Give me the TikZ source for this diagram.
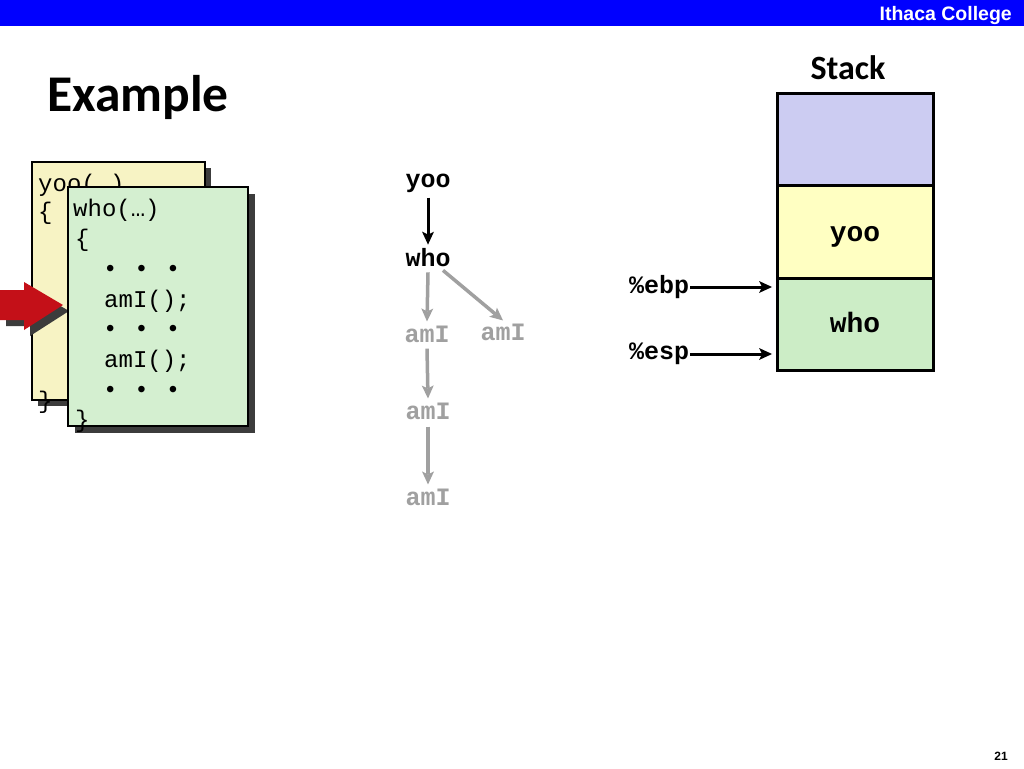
\documentclass[tikz,border=0pt]{standalone}
\usepackage{fontspec}
\newfontfamily\carlitofont{Carlito}
\newfontfamily\arifont{Liberation Sans}
\newfontfamily\monofont{Liberation Mono}
\usetikzlibrary{calc}
\definecolor{barblue}{RGB}{0,0,255}
\definecolor{codeyellow}{RGB}{247,243,196}
\definecolor{codegreen}{RGB}{212,239,208}
\definecolor{shadowgray}{RGB}{60,60,60}
\definecolor{arrowred}{RGB}{196,16,24}
\definecolor{treegray}{RGB}{160,160,160}
\definecolor{stpurple}{RGB}{204,204,242}
\definecolor{styellow}{RGB}{255,255,194}
\definecolor{stgreen}{RGB}{204,237,198}
\newcommand{\bulletrow}{•\kern2.5pt\ •\kern2.5pt\ •}
% connector: #1 colour, #2 width, #3 start, #4 end (tip point)
\newcommand{\conn}[4]{%
  \draw[#1, line width=#2, line cap=butt] (#3) -- ($(#4)!10pt!(#3)$);
  \coordinate (tipbase) at ($(#4)!13pt!(#3)$);
  \fill[#1] (#4) -- ($(tipbase)!6pt!90:(#4)$) -- ($(#4)!10pt!(#3)$) -- ($(tipbase)!6pt!-90:(#4)$) -- cycle;
}
\tikzset{
  codetext/.style={anchor=base west, inner sep=0pt, font=\monofont\fontsize{24}{28}\selectfont},
  treeblack/.style={inner sep=0pt, font=\monofont\bfseries\fontsize{25}{28}\selectfont, text=black},
  treegraylbl/.style={inner sep=0pt, font=\monofont\bfseries\fontsize{25}{28}\selectfont, text=treegray},
  stackbox/.style={draw=black, line width=3pt, minimum width=156pt, minimum height=92.5pt, inner sep=0pt},
  stacklbl/.style={inner sep=0pt, anchor=base, font=\monofont\bfseries\fontsize{28}{30}\selectfont},
  reglbl/.style={inner sep=1pt, font=\monofont\bfseries\fontsize{25}{28}\selectfont},
  boxline/.style={draw=black, line width=2pt},
}
\begin{document}
\begin{tikzpicture}[x=1pt,y=-1pt]
\useasboundingbox (0,0) rectangle (1024,768);
\fill[white] (0,0) rectangle (1024,768);
% top bar
\fill[barblue] (0,0) rectangle (1024,26);
\node[anchor=east, inner sep=0pt, text=white, font=\arifont\bfseries\fontsize{19.5}{22}\selectfont] (college) at (1012,16) {Ithaca College};
% title
\node[anchor=base west, inner sep=0pt, font=\carlitofont\bfseries\fontsize{51.5}{56}\selectfont] (title) at (47,111) {Example};
\node[anchor=base, inner sep=0pt, font=\carlitofont\bfseries\fontsize{34}{38}\selectfont] (stacktitle) at (848,79) {Stack};
% page number
\node[anchor=base east, inner sep=0pt, font=\arifont\bfseries\fontsize{12}{14}\selectfont] (pagenum) at (1008,760) {21};

% yellow code box
\fill[shadowgray] (38,168) rectangle (211,406);
\draw[boxline, fill=codeyellow] (32,162) rectangle (205,400);
\node[codetext] (y1) at (38,191) {yoo(…)};
\node[codetext] (y2) at (38,219) {\{};
\node[codetext] (y3) at (38,408) {\}};

% red arrow with shadow
\fill[shadowgray] (6,296) -- (30,296) -- (30,288) -- (69,311) -- (30,336) -- (30,326) -- (6,326) -- cycle;
\fill[arrowred] (0,290) -- (24,290) -- (24,282) -- (63,305) -- (24,330) -- (24,320) -- (0,320) -- cycle;

% green code box
\fill[shadowgray] (75,194) rectangle (255,433);
\draw[boxline, fill=codegreen] (68,187) rectangle (248,426);
\node[codetext] (g1) at (73,216) {who(…)};
\node[codetext] (g2) at (75,246) {\{};
\node[codetext] (g3) at (103,276) {\bulletrow};
\node[codetext] (g4) at (104,307) {amI();};
\node[codetext] (g5) at (103,336) {\bulletrow};
\node[codetext] (g6) at (104,367) {amI();};
\node[codetext] (g7) at (103,397) {\bulletrow};
\node[codetext] (g8) at (75,427) {\}};

% call tree
\node[treeblack] (tyoo) at (428,183) {yoo};
\node[treeblack] (twho) at (428,258) {who};
\node[treegraylbl] (ta1) at (427,334) {amI};
\node[treegraylbl] (ta2) at (503,332) {amI};
\node[treegraylbl] (ta3) at (428,411) {amI};
\node[treegraylbl] (ta4) at (428,497) {amI};
\coordinate (c1s) at ($(tyoo.south)+(0,5)$);
\coordinate (c1e) at ($(twho.north)+(0,-4)$);
\coordinate (c2s) at ($(twho.south)+(0,5)$);
\coordinate (c2e) at ($(ta1.north)+(0,-4)$);
\coordinate (c3s) at ($(twho.south)+(15,3)$);
\coordinate (c3e) at ($(ta2.north)+(0,-3)$);
\coordinate (c4s) at ($(ta1.south)+(0,6)$);
\coordinate (c4e) at ($(ta3.north)+(0,-4)$);
\coordinate (c5s) at ($(ta3.south)+(0,7)$);
\coordinate (c5e) at ($(ta4.north)+(0,-4)$);
\conn{black}{3pt}{c1s}{c1e}
\conn{treegray}{3.5pt}{c2s}{c2e}
\conn{treegray}{3.5pt}{c3s}{c3e}
\conn{treegray}{3.5pt}{c4s}{c4e}
\conn{treegray}{3.5pt}{c5s}{c5e}

% stack
\node[stackbox, fill=stpurple] (s1) at (855,139.5) {};
\node[stackbox, fill=styellow] (s2) at (855,232) {};
\node[stackbox, fill=stgreen] (s3) at (855,324.5) {};
\node[stacklbl] (s2lbl) at (855,241) {yoo};
\node[stacklbl] (s3lbl) at (855,332) {who};
\node[reglbl, anchor=west] (ebp) at (628,287) {\%ebp};
\node[reglbl, anchor=west] (esp) at (628,354) {\%esp};
\coordinate (ebpT) at (772,287);
\coordinate (espT) at (772,354);
\conn{black}{3pt}{ebp.east}{ebpT}
\conn{black}{3pt}{esp.east}{espT}
\end{tikzpicture}
\end{document}
